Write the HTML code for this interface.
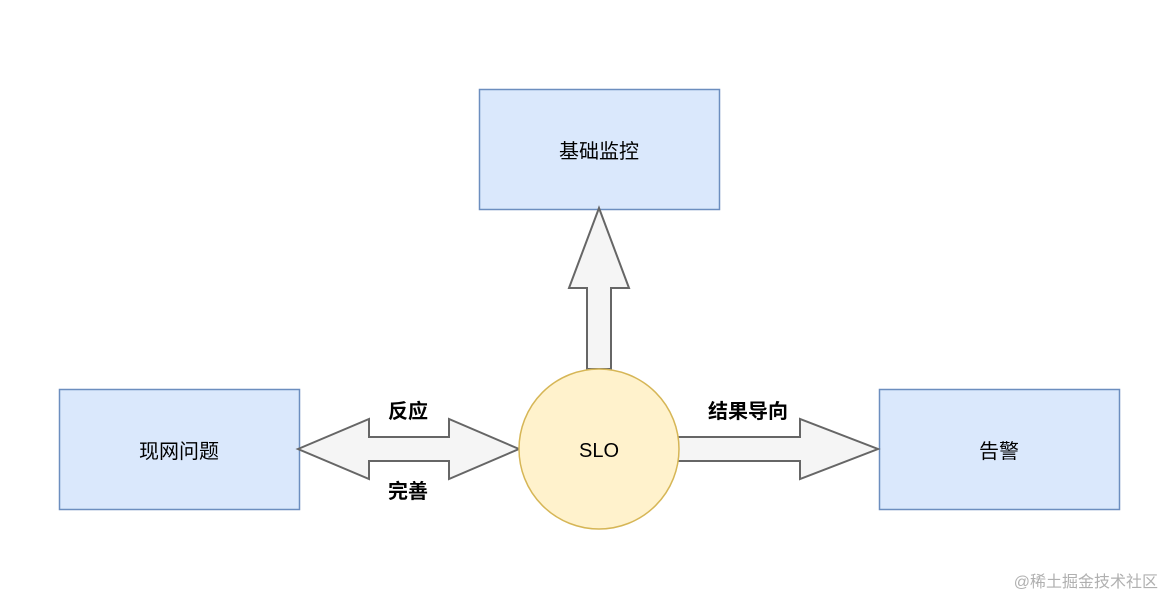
<!DOCTYPE html>
<html><head><meta charset="utf-8"><style>
html,body{margin:0;padding:0;background:#fff;}
</style></head><body>
<svg width="1176" height="610" xmlns="http://www.w3.org/2000/svg" style="display:block;font-family:'Liberation Sans','Noto Sans CJK SC',sans-serif">
<rect x="0" y="0" width="1176" height="610" fill="#fff"/>
<rect x="479.5" y="89.5" width="240" height="120" fill="#dae8fc" stroke="#6c8ebf" stroke-width="1.5"/>
<rect x="59.5" y="389.5" width="240" height="120" fill="#dae8fc" stroke="#6c8ebf" stroke-width="1.5"/>
<rect x="879.5" y="389.5" width="240" height="120" fill="#dae8fc" stroke="#6c8ebf" stroke-width="1.5"/>
<text x="599" y="158" font-size="20" text-anchor="middle" fill="#000">基础监控</text>
<text x="179" y="458" font-size="20" text-anchor="middle" fill="#000">现网问题</text>
<text x="999" y="458" font-size="20" text-anchor="middle" fill="#000">告警</text>
<polygon points="599,208 629,288 611,288 611,369 587,369 587,288 569,288" fill="#f5f5f5" stroke="#666" stroke-width="2" stroke-linejoin="miter"/>
<polygon points="298,449 369,419 369,437 449,437 449,419 519,449 449,479 449,461 369,461 369,479" fill="#f5f5f5" stroke="#666" stroke-width="2"/>
<polygon points="670,437 800,437 800,419 878,449 800,479 800,461 670,461" fill="#f5f5f5" stroke="#666" stroke-width="2"/>
<ellipse cx="599" cy="449" rx="80" ry="80" fill="#fff2cc" stroke="#d6b656" stroke-width="1.5"/>
<text x="599" y="457" font-size="20" text-anchor="middle" fill="#000">SLO</text>
<text x="408" y="418" font-size="20" font-weight="bold" text-anchor="middle" fill="#000">反应</text>
<text x="408" y="498" font-size="20" font-weight="bold" text-anchor="middle" fill="#000">完善</text>
<text x="748" y="418" font-size="20" font-weight="bold" text-anchor="middle" fill="#000">结果导向</text>
<text x="1158" y="587" font-size="16" text-anchor="end" fill="#b0b0b0">@稀土掘金技术社区</text>
</svg>
</body></html>
